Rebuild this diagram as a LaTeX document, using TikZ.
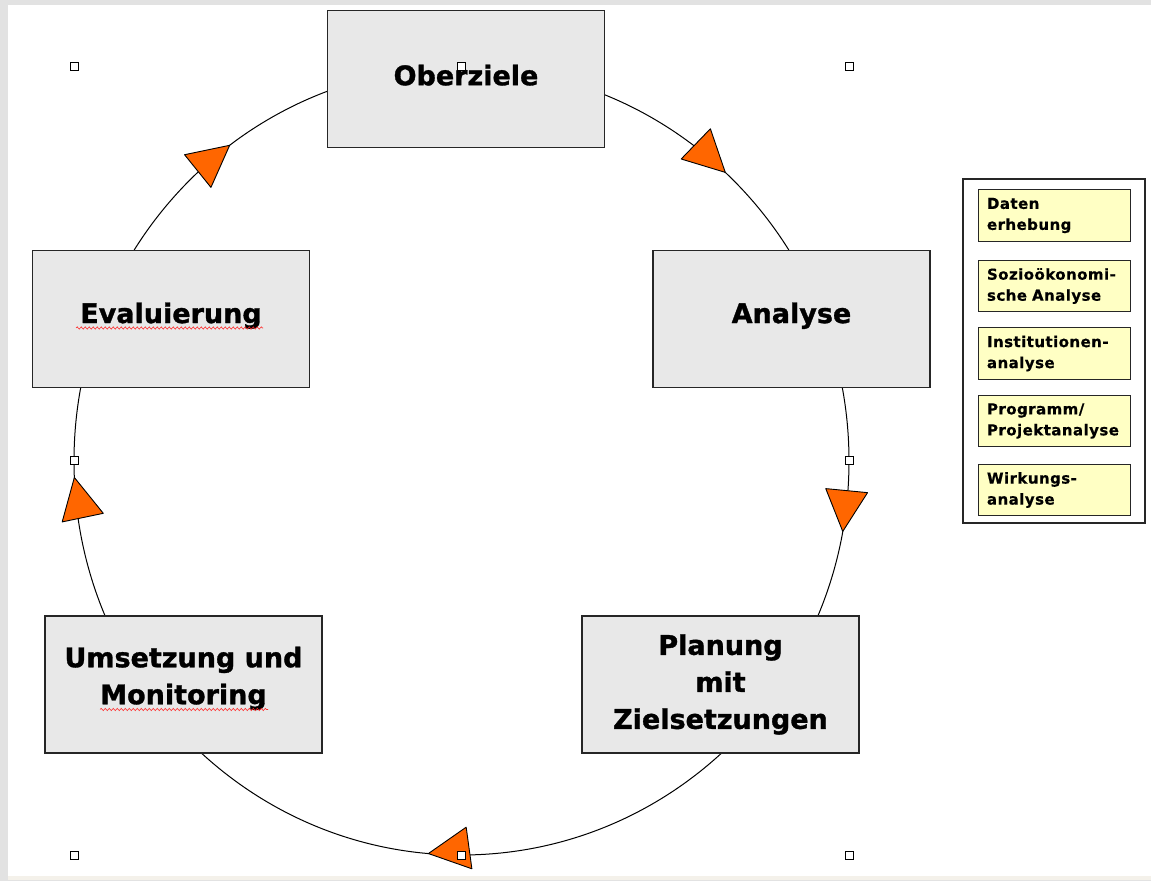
\documentclass[tikz,border=0pt]{standalone}
\usepackage{fontspec}
\setmainfont{DejaVu Sans}
\newfontfamily\stagefont[BoldFeatures={FakeBold=1.2}]{DejaVu Sans}
\newfontfamily\notefont[BoldFeatures={LetterSpace=3,FakeBold=0.6}]{DejaVu Sans}
\usetikzlibrary{calc,decorations.pathmorphing}
\definecolor{boxgray}{HTML}{E8E8E8}
\definecolor{arroworange}{HTML}{FF6600}
\definecolor{noteyellow}{HTML}{FFFFC4}
\definecolor{framegray}{HTML}{E2E2E2}
\definecolor{framecream}{HTML}{F4F1EA}
\tikzset{
  stage/.style={draw=black!85, line width=1.4pt, fill=boxgray, minimum width=277, minimum height=137,
    inner sep=0pt, align=center, font=\stagefont\fontsize{27}{37}\selectfont\bfseries},
  note/.style={draw=black!85, line width=1.3pt, fill=noteyellow, minimum width=152, minimum height=51.5,
    inner xsep=8.5pt, inner ysep=0pt, text width=135, align=left, font=\notefont\fontsize{15}{21}\selectfont\bfseries},
  panel/.style={draw=black!85, line width=1.4pt, fill=white, minimum width=182, minimum height=344, inner sep=0pt},
  cycleline/.style={draw=black, line width=1pt},
  tri/.style={draw=black, line width=0.9pt, fill=arroworange, line join=round},
  handle/.style={draw=black, fill=white, line width=1pt, minimum size=8pt, inner sep=0pt},
  squiggle/.style={draw=red!85, line width=0.6pt, decorate, decoration={snake, amplitude=1.1pt, segment length=4pt}}
}
\newcommand{\cyclearrow}[3]{%
  \coordinate (#1) at ($(c)+(#2:387.5 and 394)$);
  \begin{scope}[shift={(#1)}, rotate=#3]
    \draw[tri] (0,0) -- (-41,21) -- (-41,-21) -- cycle;
  \end{scope}}
\begin{document}
\begin{tikzpicture}[x=1pt,y=1pt]
  % frame
  \fill[framegray] (0,0) rectangle (1151,881);
  \fill[framecream] (8,1) rectangle (1151,5);
  \fill[white] (8,5) rectangle (1151,875.5);
  \useasboundingbox (0,0) rectangle (1151,881);

  % cycle
  \coordinate (c) at (461.5,420);
  \path[cycleline] (c) ellipse [x radius=387.5, y radius=394];

  % stages
  \node[stage, text depth=8pt] (ober) at (466,802) {Oberziele};
  \node[stage, text depth=12.4pt] (anal) at (791.5,562) {Analyse};
  \node[stage, text depth=12.4pt] (eval) at (171,562) {Evaluierung};
  \node[stage] (plan) at (720.5,196.5) {Planung\\mit\\Zielsetzungen};
  \node[stage, text depth=18pt] (umse) at (183.5,196.5) {Umsetzung und\\Monitoring};

  % spelling marks
  \draw[squiggle] ($(eval.center)+(-95,-9)$) -- ($(eval.center)+(92,-9)$);
  \draw[squiggle] ($(umse.center)+(-83.5,-25)$) -- ($(umse.center)+(84.5,-25)$);

  % arrows on the cycle
  \cyclearrow{atr}{47.1}{-44}
  \cyclearrow{ar}{-10.3}{-95.5}
  \cyclearrow{ab}{265.1}{187.8}
  \cyclearrow{al}{182.4}{101.8}
  \cyclearrow{atl}{126.75}{38.9}

  % side panel
  \node[panel] (pan) at (1054,530) {};
  \node[note] (n1) at (1054.5,665.5) {Daten\\erhebung};
  \node[note] (n2) at (1054.5,595) {Sozioökonomi-\\sche Analyse};
  \node[note] (n3) at (1054.5,527.5) {Institutionen-\\analyse};
  \node[note] (n4) at (1054.5,460) {Programm/\\Projektanalyse};
  \node[note] (n5) at (1054.5,391) {Wirkungs-\\analyse};

  % selection handles
  \node[handle] (h1) at (74.5,814) {};
  \node[handle] (h2) at (461.5,814) {};
  \node[handle] (h3) at (849,814) {};
  \node[handle] (h4) at (74.5,420) {};
  \node[handle] (h5) at (849,420) {};
  \node[handle] (h6) at (74.5,26) {};
  \node[handle] (h7) at (461.5,26) {};
  \node[handle] (h8) at (849,26) {};
\end{tikzpicture}
\end{document}
